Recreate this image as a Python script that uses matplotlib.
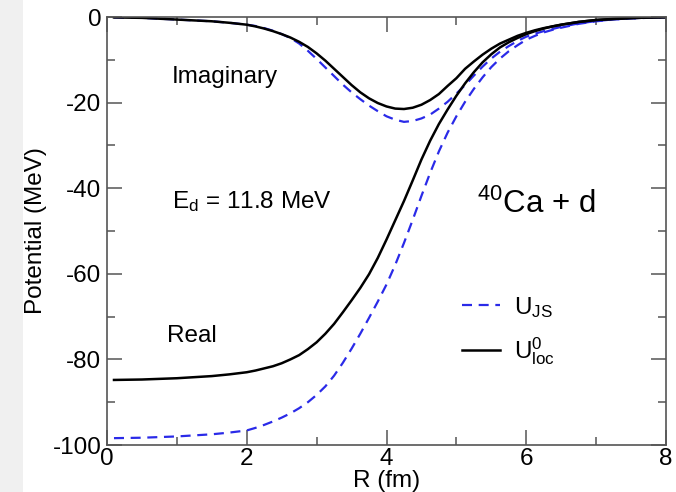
import matplotlib
matplotlib.use("Agg")
import matplotlib.pyplot as plt
from matplotlib.patches import Rectangle
from matplotlib.ticker import MultipleLocator
from matplotlib.lines import Line2D

# ---- data ----
r_fm = [0.1, 0.5, 1.0, 1.5, 1.75,
        2.0, 2.125, 2.25, 2.375, 2.5, 2.625, 2.75, 2.875,
        3.0, 3.125, 3.25, 3.375, 3.5, 3.625, 3.75, 3.875,
        4.0, 4.125, 4.25, 4.375, 4.5, 4.625, 4.75, 4.875,
        5.0, 5.125, 5.25, 5.375, 5.5, 5.625, 5.75, 5.875,
        6.0, 6.125, 6.25, 6.375, 6.5,
        6.75, 7.0, 7.25, 7.5, 7.75, 8.0]

imag_loc = [-0.1, -0.2, -0.6, -1.0, -1.35,
            -1.8, -2.2, -2.7, -3.3, -4.0, -4.8, -5.8, -7.0,
            -8.5, -10.2, -12.1, -14.0, -15.9, -17.6, -19.0, -20.1,
            -20.9, -21.4, -21.5, -21.2, -20.5, -19.4, -18.0, -16.1,
            -14.3, -12.1, -10.4, -8.8, -7.4, -6.2, -5.3, -4.4,
            -3.7, -3.1, -2.6, -2.2, -1.8,
            -1.15, -0.7, -0.45, -0.25, -0.12, -0.05]

imag_js = [-0.1, -0.2, -0.6, -1.0, -1.35,
           -1.8, -2.1, -2.6, -3.2, -4.0, -4.9, -6.2, -7.9,
           -9.8, -11.8, -13.8, -15.8, -17.6, -19.2, -20.7, -22.0,
           -23.2, -24.0, -24.5, -24.3, -23.7, -22.8, -21.4, -19.8,
           -17.9, -15.9, -13.7, -11.6, -9.7, -8.1, -6.8, -5.6,
           -4.6, -3.9, -3.3, -2.8, -2.3,
           -1.5, -0.95, -0.55, -0.3, -0.15, -0.08]

real_loc = [-84.8, -84.7, -84.4, -83.9, -83.5,
            -83.0, -82.6, -82.1, -81.6, -80.9, -80.0, -79.0, -77.6,
            -76.0, -74.0, -71.7, -69.0, -66.2, -63.3, -60.1, -56.3,
            -52.0, -47.5, -43.0, -38.2, -33.3, -28.9, -25.0, -21.6,
            -18.4, -15.5, -12.9, -10.6, -8.7, -7.1, -5.9, -4.9,
            -4.0, -3.3, -2.7, -2.2, -1.8,
            -1.15, -0.7, -0.45, -0.25, -0.12, -0.05]

real_js = [-98.4, -98.3, -98.0, -97.5, -97.1,
           -96.6, -96.0, -95.3, -94.5, -93.6, -92.6, -91.4, -90.0,
           -88.3, -86.3, -83.8, -80.8, -77.5, -74.0, -70.3, -66.5,
           -62.5, -57.9, -52.8, -47.4, -41.8, -36.4, -31.4, -27.0,
           -23.2, -19.8, -16.8, -14.1, -11.7, -9.7, -8.0, -6.6,
           -5.3, -4.4, -3.6, -3.0, -2.5,
           -1.6, -1.0, -0.6, -0.35, -0.18, -0.08]

x_ticks = [0, 2, 4, 6, 8]
y_ticks = [0, -20, -40, -60, -80, -100]
legend_labels = [r"$\mathrm{U_{JS}}$", r"$\mathrm{U^0_{loc}}$"]

# ---- style ----
plt.rcParams['font.family'] = ['Liberation Sans', 'DejaVu Sans']
plt.rcParams['mathtext.fontset'] = 'custom'
plt.rcParams['mathtext.rm'] = 'Liberation Sans'
plt.rcParams['mathtext.it'] = 'Liberation Sans:italic'
plt.rcParams['mathtext.bf'] = 'Liberation Sans:bold'
plt.rcParams['axes.unicode_minus'] = False

FS = 17.5
blue = '#2a2ae8'
axc = '#555555'
dash = (0, (4.5, 3))

fig = plt.figure(figsize=(6.76, 4.92), dpi=100)
fig.add_artist(Rectangle((0, 0), 23 / 676, 1, transform=fig.transFigure,
                         facecolor='#f0f0f0', edgecolor='none', zorder=-5))
ax = fig.add_axes([107 / 676, 1 - 445 / 492, 559 / 676, 428 / 492])

ax.plot(r_fm, imag_js, color=blue, lw=1.6, ls=dash)
ax.plot(r_fm, real_js, color=blue, lw=1.6, ls=dash)
ax.plot(r_fm, imag_loc, color='black', lw=1.8)
ax.plot(r_fm, real_loc, color='black', lw=1.8)

ax.set_xlim(0, 8)
ax.set_ylim(-100, 0)
ax.set_xticks(x_ticks)
ax.set_yticks(y_ticks)
ax.xaxis.set_minor_locator(MultipleLocator(1))
ax.yaxis.set_minor_locator(MultipleLocator(10))
ax.tick_params(which='both', direction='in', top=True, right=True,
               color=axc, width=1.1, labelsize=FS)
ax.tick_params(which='major', length=11)
ax.tick_params(which='minor', length=6)
ax.tick_params(axis='x', pad=2)
ax.tick_params(axis='y', pad=4)
for s in ax.spines.values():
    s.set_color(axc)
    s.set_linewidth(1.2)

ax.set_xlabel('R (fm)', fontsize=FS, labelpad=0)
ax.set_ylabel('Potential (MeV)', fontsize=FS, labelpad=4)

ax.text(0.93, -15.4, 'Imaginary', fontsize=FS, ha='left', va='baseline')
ax.text(0.93, -44.7, r'$\mathrm{E_d}$ = 11.8 MeV', fontsize=FS, ha='left', va='baseline')
ax.text(0.86, -76.0, 'Real', fontsize=FS, ha='left', va='baseline')
ax.text(5.30, -45.7, r'$^{40}$Ca + d', fontsize=22.5, ha='left', va='baseline')

handles = [Line2D([], [], color=blue, lw=1.6, ls=dash),
           Line2D([], [], color='black', lw=1.8)]
ax.legend(handles, legend_labels, loc='upper left', bbox_to_anchor=(0.618, 0.374),
          frameon=False, fontsize=FS, handlelength=1.55, handletextpad=0.6,
          labelspacing=0.65, borderaxespad=0)

fig.savefig('out.png', dpi=100)
